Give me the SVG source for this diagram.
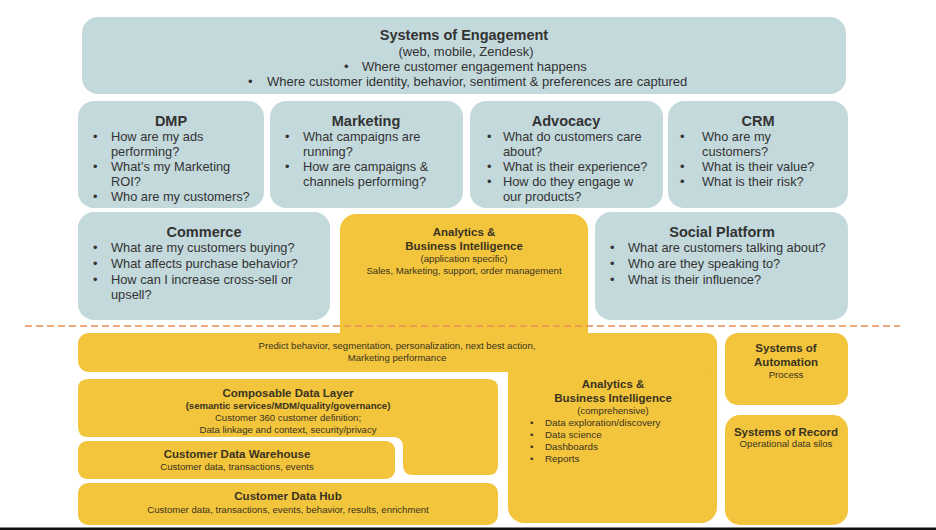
<svg xmlns="http://www.w3.org/2000/svg" width="936" height="530" viewBox="0 0 936 530">
<style>
.teal{fill:#c3d9dc}
.yel{fill:#f2c53d}
text{font-family:"Liberation Sans",Arial,sans-serif;fill:#333}
.h{font-size:14.5px;font-weight:bold;text-anchor:middle}
.b{font-size:12.8px}
.s{font-size:13px}
.yh{font-size:11.5px;font-weight:bold;text-anchor:middle;fill:#3a3320}
.ym{font-size:9.6px;font-weight:bold;text-anchor:middle;fill:#3a3320}
.ys{font-size:9.6px;text-anchor:middle;fill:#3a3320}
.yb{font-size:9.8px;fill:#3a3320}
.c{text-anchor:middle}
</style>
<rect width="936" height="530" fill="#ffffff"/>

<g id="systems-of-engagement">
<rect class="teal" x="82" y="17" width="764" height="77" rx="16"/>
<text class="h" x="464" y="40">Systems of Engagement</text>
<text class="s c" x="466" y="56">(web, mobile, Zendesk)</text>
<text class="s" y="71"><tspan x="344">•</tspan><tspan x="362">Where customer engagement happens</tspan></text>
<text class="s" y="86"><tspan x="248">•</tspan><tspan x="267">Where customer identity, behavior, sentiment &amp; preferences are captured</tspan></text>
</g>

<g id="dmp">
<rect class="teal" x="78" y="101" width="186" height="107" rx="16"/>
<text class="h" x="171" y="126">DMP</text>
<text class="b" y="141"><tspan x="93">•</tspan><tspan x="111">How are my ads</tspan></text>
<text class="b" x="111" y="156">performing?</text>
<text class="b" y="171"><tspan x="93">•</tspan><tspan x="111">What’s my Marketing</tspan></text>
<text class="b" x="111" y="186">ROI?</text>
<text class="b" y="201"><tspan x="93">•</tspan><tspan x="111">Who are my customers?</tspan></text>
</g>

<g id="marketing">
<rect class="teal" x="270" y="101" width="193" height="107" rx="16"/>
<text class="h" x="366" y="126">Marketing</text>
<text class="b" y="141"><tspan x="285">•</tspan><tspan x="303">What campaigns are</tspan></text>
<text class="b" x="303" y="156">running?</text>
<text class="b" y="171"><tspan x="285">•</tspan><tspan x="303">How are campaigns &amp;</tspan></text>
<text class="b" x="303" y="186">channels performing?</text>
</g>

<g id="advocacy">
<rect class="teal" x="470" y="101" width="193" height="107" rx="16"/>
<text class="h" x="566" y="126">Advocacy</text>
<text class="b" y="141"><tspan x="487">•</tspan><tspan x="503">What do customers care</tspan></text>
<text class="b" x="503" y="156">about?</text>
<text class="b" y="171"><tspan x="487">•</tspan><tspan x="503">What is their experience?</tspan></text>
<text class="b" y="186"><tspan x="487">•</tspan><tspan x="503">How do they engage w</tspan></text>
<text class="b" x="503" y="201">our products?</text>
</g>

<g id="crm">
<rect class="teal" x="668" y="101" width="180" height="107" rx="16"/>
<text class="h" x="758" y="126">CRM</text>
<text class="b" y="141"><tspan x="680">•</tspan><tspan x="702">Who are my</tspan></text>
<text class="b" x="702" y="156">customers?</text>
<text class="b" y="171"><tspan x="680">•</tspan><tspan x="702">What is their value?</tspan></text>
<text class="b" y="186"><tspan x="680">•</tspan><tspan x="702">What is their risk?</tspan></text>
</g>

<g id="commerce">
<rect class="teal" x="78" y="212" width="252" height="108" rx="16"/>
<text class="h" x="204" y="237">Commerce</text>
<text class="b" y="252"><tspan x="93">•</tspan><tspan x="111">What are my customers buying?</tspan></text>
<text class="b" y="268"><tspan x="93">•</tspan><tspan x="111">What affects purchase behavior?</tspan></text>
<text class="b" y="284"><tspan x="93">•</tspan><tspan x="111">How can I increase cross-sell or</tspan></text>
<text class="b" x="111" y="299">upsell?</text>
</g>

<g id="social-platform">
<rect class="teal" x="595" y="212" width="253" height="108" rx="16"/>
<text class="h" x="722" y="237">Social Platform</text>
<text class="b" y="252"><tspan x="610">•</tspan><tspan x="628">What are customers talking about?</tspan></text>
<text class="b" y="268"><tspan x="610">•</tspan><tspan x="628">Who are they speaking to?</tspan></text>
<text class="b" y="284"><tspan x="610">•</tspan><tspan x="628">What is their influence?</tspan></text>
</g>

<g id="analytics-application">
<rect class="yel" x="340" y="214" width="248" height="150" rx="16"/>
<text class="yh" x="464" y="236">Analytics &amp;</text>
<text class="yh" x="464" y="250">Business Intelligence</text>
<text class="ys" x="464" y="262">(application specific)</text>
<text class="ys" x="464" y="274">Sales, Marketing, support, order management</text>
</g>

<g id="analytics-comprehensive">
<rect class="yel" x="508" y="333" width="209" height="190" rx="16"/>
<text class="yh" x="613" y="388">Analytics &amp;</text>
<text class="yh" x="613" y="402">Business Intelligence</text>
<text class="ys" x="613" y="414">(comprehensive)</text>
<text class="yb" y="426"><tspan x="530">•</tspan><tspan x="545">Data exploration/discovery</tspan></text>
<text class="yb" y="438"><tspan x="530">•</tspan><tspan x="545">Data science</tspan></text>
<text class="yb" y="450"><tspan x="530">•</tspan><tspan x="545">Dashboards</tspan></text>
<text class="yb" y="462"><tspan x="530">•</tspan><tspan x="545">Reports</tspan></text>
</g>

<g id="predict">
<rect class="yel" x="78" y="333" width="639" height="39" rx="11"/>
<text class="ys" x="397" y="349">Predict behavior, segmentation, personalization, next best action,</text>
<text class="ys" x="397" y="361">Marketing performance</text>
</g>

<g id="composable-data-layer">
<path class="yel" d="M88 379 H488 Q498 379 498 389 V465 Q498 475 488 475 H413 Q403 475 403 465 V447 Q403 437 393 437 H88 Q78 437 78 427 V389 Q78 379 88 379 Z"/>
<text class="yh" x="288" y="397">Composable Data Layer</text>
<text class="ym" x="288" y="409">(semantic services/MDM/quality/governance)</text>
<text class="ys" x="288" y="421">Customer 360 customer definition;</text>
<text class="ys" x="288" y="433">Data linkage and context, security/privacy</text>
</g>

<g id="customer-data-warehouse">
<rect class="yel" x="78" y="441" width="317" height="38" rx="9"/>
<text class="yh" x="237" y="458">Customer Data Warehouse</text>
<text class="ys" x="237" y="470">Customer data, transactions, events</text>
</g>

<g id="customer-data-hub">
<rect class="yel" x="78" y="483" width="420" height="42" rx="10"/>
<text class="yh" x="288" y="500">Customer Data Hub</text>
<text class="ys" x="288" y="513">Customer data, transactions, events, behavior, results, enrichment</text>
</g>

<g id="systems-of-automation">
<rect class="yel" x="725" y="333" width="123" height="72" rx="13"/>
<text class="yh" x="786" y="352">Systems of</text>
<text class="yh" x="786" y="366">Automation</text>
<text class="ys" x="786" y="378">Process</text>
</g>

<g id="systems-of-record">
<rect class="yel" x="725" y="415" width="123" height="110" rx="15"/>
<text class="yh" x="786" y="436">Systems of Record</text>
<text class="ys" x="786" y="447">Operational data silos</text>
</g>

<g id="connectors">
<line x1="25" y1="326" x2="900" y2="326" stroke="#e98f55" stroke-width="1.6" stroke-dasharray="7 4"/>
</g>

<rect x="0" y="527.5" width="936" height="2.5" fill="#111"/>
</svg>
